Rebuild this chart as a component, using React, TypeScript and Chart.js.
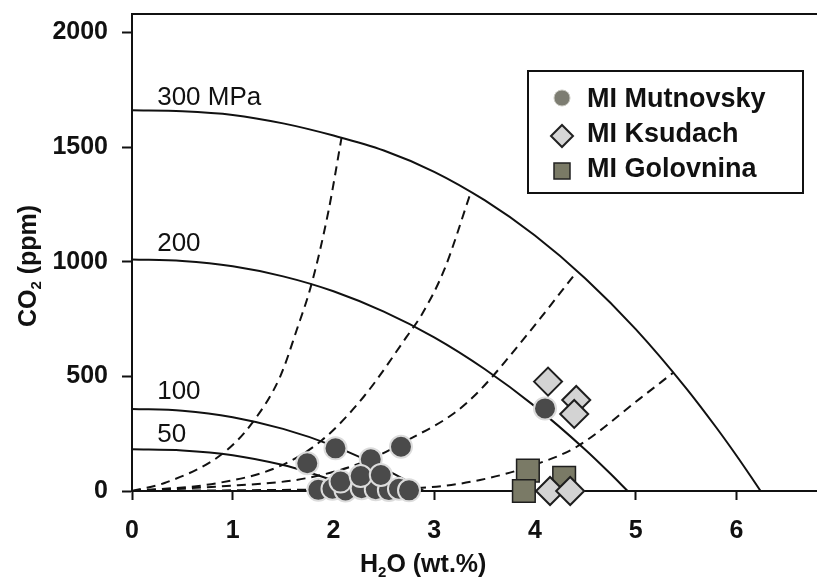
import React, { useEffect, useRef } from 'react';
import { Chart, registerables } from 'chart.js';

Chart.register(...registerables);

// ---- axis ticks ----
const xTickValues = [0, 1, 2, 3, 4, 5, 6];
const xTickLabels = ['0', '1', '2', '3', '4', '5', '6'];
const yTickValues = [0, 500, 1000, 1500, 2000];
const yTickLabels = ['0', '500', '1000', '1500', '2000'];

// ---- melt inclusion data: H2O (wt.%) / CO2 (ppm) ----
const mutnovskyH2O = [2.37, 1.85, 1.99, 2.12, 2.28, 2.42, 2.55, 2.65, 2.75, 2.07, 2.27, 2.47, 1.74, 2.02, 2.67, 4.1];
const mutnovskyCO2 = [138, 5, 10, 2, 12, 8, 4, 10, 3, 41, 65, 70, 121, 186, 193, 360];

const ksudachH2O = [4.13, 4.41, 4.39, 4.15, 4.35];
const ksudachCO2 = [477, 397, 336, 0, 0];

const golovninaH2O = [3.93, 3.89, 4.29];
const golovninaCO2 = [89, 0, 58];

// ---- isobars (solid) ----
const iso300H2O = [0, 0.5, 1, 1.5, 2, 2.5, 3, 3.5, 4, 4.5, 5, 5.5, 5.8, 6.0, 6.15, 6.24];
const iso300CO2 = [1660, 1656, 1640, 1603, 1550, 1485, 1392, 1268, 1114, 927, 706, 449, 277, 155, 59, 0];

const iso200H2O = [0, 0.5, 1, 1.5, 2, 2.5, 3, 3.5, 4, 4.5, 4.75, 4.92];
const iso200CO2 = [1010, 1003, 980, 936, 871, 782, 670, 532, 369, 180, 75, 0];

const iso100H2O = [0, 0.5, 1, 1.5, 2, 2.5, 2.75, 2.9];
const iso100CO2 = [358, 350, 322, 271, 197, 98, 39, 0];

const iso50H2O = [0, 0.5, 1, 1.5, 1.75, 2, 2.25];
const iso50CO2 = [182, 177, 156, 113, 82, 45, 0];

const isobarLabels = ['300 MPa', '200', '100', '50'];

// ---- isopleths (dashed) ----
const pleth1H2O = [0, 0.33, 0.894, 1.19, 1.47, 1.635, 1.787, 1.95, 2.08];
const pleth1CO2 = [0, 36, 161, 295, 498, 702, 910, 1220, 1540];

const pleth2H2O = [0, 0.83, 1.456, 1.887, 2.3, 2.727, 2.88, 3.1, 3.36];
const pleth2CO2 = [0, 33, 106, 222, 411, 673, 772, 965, 1298];

const pleth3H2O = [0, 0.83, 1.72, 2.32, 2.75, 3.2, 3.455, 3.92, 4.415];
const pleth3CO2 = [0, 19, 55, 130, 225, 340, 440, 680, 956];

const pleth4H2O = [0, 1.0, 2.0, 2.88, 3.455, 4.0, 4.415, 5.045, 5.37];
const pleth4CO2 = [0, 3, 7, 14, 48, 115, 193, 404, 515];

const seriesLabels = ['MI Mutnovsky', 'MI Ksudach', 'MI Golovnina'];

const FONT = "'Liberation Sans', Arial, Helvetica, sans-serif";
const INK = '#111111';

const pts = (xs: number[], ys: number[]) => xs.map((x, i) => ({ x, y: ys[i] }));

const curve = (label: string, xs: number[], ys: number[], dashed: boolean) => ({
  type: 'line' as const,
  label,
  data: pts(xs, ys),
  showLine: true,
  borderColor: INK,
  borderWidth: 2,
  borderDash: dashed ? [9, 6] : [],
  pointRadius: 0,
  pointHoverRadius: 0,
  fill: false,
  cubicInterpolationMode: 'monotone' as const,
  order: 10,
});

function drawSubText(ctx: CanvasRenderingContext2D, parts: { t: string; sub?: boolean }[], x: number, y: number, size: number, center: boolean) {
  const big = `bold ${size}px ${FONT}`;
  const small = `bold ${Math.round(size * 0.6)}px ${FONT}`;
  let total = 0;
  for (const p of parts) {
    ctx.font = p.sub ? small : big;
    total += ctx.measureText(p.t).width;
  }
  let cx = center ? x - total / 2 : x;
  for (const p of parts) {
    ctx.font = p.sub ? small : big;
    ctx.fillText(p.t, cx, p.sub ? y + size * 0.18 : y);
    cx += ctx.measureText(p.t).width;
  }
}

const overlayPlugin = {
  id: 'overlay',
  afterDraw(chart: any) {
    const ctx: CanvasRenderingContext2D = chart.ctx;
    const xs = chart.scales.x;
    const ys = chart.scales.y;
    ctx.save();
    ctx.fillStyle = INK;
    ctx.textAlign = 'left';
    ctx.textBaseline = 'alphabetic';

    // isobar labels
    ctx.font = `26px ${FONT}`;
    const starts = [iso300CO2[0], iso200CO2[0], iso100CO2[0], iso50CO2[0]];
    const offs = [5, 8, 10, 7];
    starts.forEach((v, i) => {
      ctx.fillText(isobarLabels[i], xs.getPixelForValue(0.25), ys.getPixelForValue(v) - offs[i]);
    });

    // x axis title
    drawSubText(ctx, [{ t: 'H' }, { t: '2', sub: true }, { t: 'O (wt.%)' }], 360, 572, 25, false);

    // y axis title
    ctx.save();
    ctx.translate(36, 266);
    ctx.rotate(-Math.PI / 2);
    drawSubText(ctx, [{ t: 'CO' }, { t: '2', sub: true }, { t: ' (ppm)' }], 0, 0, 25, true);
    ctx.restore();

    // legend
    const lx = 528, ly = 71, lw = 275, lh = 122;
    ctx.lineWidth = 2;
    ctx.strokeStyle = INK;
    ctx.strokeRect(lx, ly, lw, lh);
    const mx = 562;
    // circle
    ctx.beginPath();
    ctx.arc(mx, 98, 8, 0, Math.PI * 2);
    ctx.fillStyle = '#7d7d72';
    ctx.fill();
    ctx.strokeStyle = '#c8c8c0';
    ctx.lineWidth = 1;
    ctx.stroke();
    // diamond
    ctx.beginPath();
    ctx.moveTo(mx - 11, 136);
    ctx.lineTo(mx, 125);
    ctx.lineTo(mx + 11, 136);
    ctx.lineTo(mx, 147);
    ctx.closePath();
    ctx.fillStyle = '#d6d6d6';
    ctx.fill();
    ctx.strokeStyle = '#222';
    ctx.lineWidth = 2;
    ctx.stroke();
    // square
    ctx.beginPath();
    ctx.rect(mx - 8, 163, 16, 16);
    ctx.fillStyle = '#7a7a66';
    ctx.fill();
    ctx.strokeStyle = '#222';
    ctx.lineWidth = 1.5;
    ctx.stroke();

    ctx.fillStyle = INK;
    ctx.font = `bold 27px ${FONT}`;
    const baselines = [107, 142, 177];
    seriesLabels.forEach((t, i) => ctx.fillText(t, 587, baselines[i]));
    ctx.restore();
  },
};

export default function App() {
  const ref = useRef<HTMLCanvasElement | null>(null);

  useEffect(() => {
    const canvas = ref.current;
    if (!canvas) return;
    Chart.defaults.font.family = FONT;

    const chart = new Chart(canvas, {
      type: 'scatter',
      data: {
        datasets: [
          {
            label: seriesLabels[1],
            data: pts(ksudachH2O, ksudachCO2),
            pointStyle: 'rectRot',
            pointRadius: 14,
            pointHoverRadius: 14,
            backgroundColor: '#d3d3d3',
            borderColor: '#1e1e1e',
            borderWidth: 2,
            clip: false,
            order: 0,
          },
          {
            label: seriesLabels[2],
            data: pts(golovninaH2O, golovninaCO2),
            pointStyle: 'rect',
            pointRadius: 16,
            pointHoverRadius: 16,
            backgroundColor: '#7a7a66',
            borderColor: '#1e1e1e',
            borderWidth: 1.5,
            clip: false,
            order: 1,
          },
          {
            label: seriesLabels[0],
            data: pts(mutnovskyH2O, mutnovskyCO2),
            pointStyle: 'circle',
            pointRadius: 11,
            pointHoverRadius: 11,
            backgroundColor: '#4a4a4a',
            borderColor: '#dcdcdc',
            borderWidth: 2,
            clip: false,
            order: 2,
          },
          curve('300 MPa', iso300H2O, iso300CO2, false),
          curve('200 MPa', iso200H2O, iso200CO2, false),
          curve('100 MPa', iso100H2O, iso100CO2, false),
          curve('50 MPa', iso50H2O, iso50CO2, false),
          curve('isopleth 1', pleth1H2O, pleth1CO2, true),
          curve('isopleth 2', pleth2H2O, pleth2CO2, true),
          curve('isopleth 3', pleth3H2O, pleth3CO2, true),
          curve('isopleth 4', pleth4H2O, pleth4CO2, true),
        ] as any,
      },
      options: {
        responsive: false,
        animation: false,
        events: [],
        layout: { autoPadding: false, padding: { top: 14, left: 0, right: 0, bottom: 0 } },
        plugins: { legend: { display: false }, tooltip: { enabled: false }, title: { display: false } },
        scales: {
          x: {
            type: 'linear',
            position: 'bottom',
            min: 0,
            max: 6.8,
            afterBuildTicks: (s: any) => { s.ticks = xTickValues.map((v) => ({ value: v })); },
            afterFit: (s: any) => { s.height = 92; s.paddingLeft = 0; s.paddingRight = 0; },
            ticks: {
              font: { size: 25, weight: 'bold' },
              color: INK,
              padding: 16,
              maxRotation: 0,
              callback: (_v: any, i: number) => xTickLabels[i],
            },
            grid: { display: true, drawOnChartArea: false, drawTicks: true, tickLength: 9, tickWidth: 2, tickColor: INK },
            border: { display: true, color: INK, width: 2 },
          },
          x2: {
            type: 'linear',
            position: 'top',
            min: 0,
            max: 6.8,
            afterFit: (s: any) => { s.height = 0; s.paddingLeft = 0; s.paddingRight = 0; },
            ticks: { display: false },
            grid: { display: false, drawTicks: false },
            border: { display: true, color: INK, width: 2 },
          },
          y: {
            type: 'linear',
            min: 0,
            max: 2080,
            afterBuildTicks: (s: any) => { s.ticks = yTickValues.map((v) => ({ value: v })); },
            afterFit: (s: any) => { s.width = 132; s.paddingTop = 0; s.paddingBottom = 0; },
            ticks: {
              font: { size: 25, weight: 'bold' },
              color: INK,
              padding: 14,
              callback: (_v: any, i: number) => yTickLabels[i],
            },
            grid: { display: true, drawOnChartArea: false, drawTicks: true, tickLength: 10, tickWidth: 2, tickColor: INK },
            border: { display: true, color: INK, width: 2 },
          },
        },
      } as any,
      plugins: [overlayPlugin],
    });

    return () => chart.destroy();
  }, []);

  return (
    <div style={{ position: 'fixed', left: 0, top: 0, width: 817, height: 583, background: '#fff' }}>
      <canvas ref={ref} width={817} height={583} style={{ display: 'block', width: 817, height: 583 }} />
    </div>
  );
}
